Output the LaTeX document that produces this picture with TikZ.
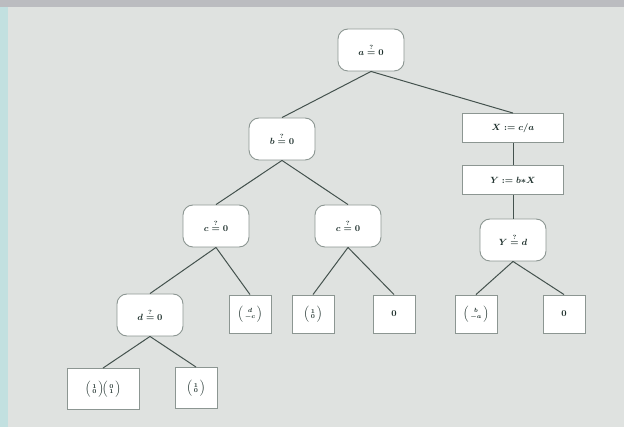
\documentclass[tikz,border=0pt]{standalone}
\usepackage{amsmath}
\definecolor{bgc}{HTML}{DFE2E0}
\definecolor{topc}{HTML}{BBBCC0}
\definecolor{leftc}{HTML}{C2E0E0}
\definecolor{linec}{HTML}{44524E}
\definecolor{boxc}{HTML}{8C9692}
\definecolor{txtc}{HTML}{1E302C}
\newcommand{\vecb}[2]{\Bigl(\begin{smallmatrix}#1\\#2\end{smallmatrix}\Bigr)}
\newcommand{\tst}[2]{#1\mathrel{\overset{?}{=}}#2}
\tikzset{
  test/.style={draw=boxc, line width=0.9pt, fill=white, rounded corners=10pt,
    minimum width=66pt, minimum height=42pt, inner sep=0pt, font=\small\boldmath, text=txtc},
  assign/.style={draw=boxc, line width=0.9pt, fill=white,
    minimum width=101pt, minimum height=29pt, inner sep=0pt, font=\small\boldmath, text=txtc},
  leaf/.style={draw=boxc, line width=0.9pt, fill=white,
    minimum width=42pt, minimum height=38pt, inner sep=0pt, font=\small\boldmath, text=txtc},
  edge/.style={draw=linec, line width=1pt}
}
\begin{document}
\begin{tikzpicture}[x=1pt,y=-1pt]
\fill[bgc] (0,0) rectangle (624,427);
\fill[topc] (0,0) rectangle (624,7);
\fill[leftc] (0,7) rectangle (8,427);
\useasboundingbox (0,0) rectangle (624,427);

\node[test] (a) at (371,50) {$\tst{a}{0}$};
\node[test] (b) at (282,139) {$\tst{b}{0}$};
\node[assign] (x) at (513,128) {$X := c/a$};
\node[assign] (y) at (513,180) {$Y := b{*}X$};
\node[test] (yd) at (513,240) {$\tst{Y}{d}$};
\node[test] (c1) at (216,226) {$\tst{c}{0}$};
\node[test] (c2) at (348,226) {$\tst{c}{0}$};
\node[test] (d) at (150,315) {$\tst{d}{0}$};
\node[leaf] (l1) at (250,314) {$\vecb{d}{-c}$};
\node[leaf] (l2) at (313,314) {$\vecb{1}{0}$};
\node[leaf] (l3) at (394,314) {$0$};
\node[leaf] (l4) at (476,314) {$\vecb{b}{-a}$};
\node[leaf] (l5) at (564,314) {$0$};
\node[leaf, minimum width=72pt, minimum height=41pt] (l6) at (103,389) {$\vecb{1}{0}\!\vecb{0}{1}$};
\node[leaf, minimum height=41pt] (l7) at (196,388) {$\vecb{1}{0}$};

\draw[edge] (a.south) -- (b.north);
\draw[edge] (a.south) -- (x.north);
\draw[edge] (x.south) -- (y.north);
\draw[edge] (y.south) -- (yd.north);
\draw[edge] (b.south) -- (c1.north);
\draw[edge] (b.south) -- (c2.north);
\draw[edge] (c1.south) -- (d.north);
\draw[edge] (c1.south) -- (l1.north);
\draw[edge] (c2.south) -- (l2.north);
\draw[edge] (c2.south) -- (l3.north);
\draw[edge] (yd.south) -- (l4.north);
\draw[edge] (yd.south) -- (l5.north);
\draw[edge] (d.south) -- (l6.north);
\draw[edge] (d.south) -- (l7.north);
\end{tikzpicture}
\end{document}
